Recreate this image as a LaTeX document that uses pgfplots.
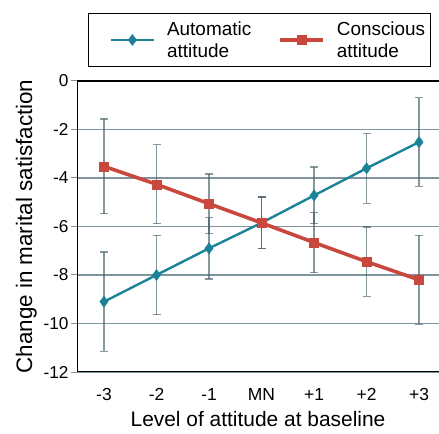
\documentclass[border=0pt]{standalone}
\usepackage{pgfplots}
\pgfplotsset{compat=1.18}
\usepackage{fontspec}
\setmainfont{Liberation Sans}
\definecolor{teal1}{RGB}{27,130,152}
\definecolor{red1}{RGB}{200,72,62}
\definecolor{grid1}{RGB}{128,148,158}
\definecolor{err1}{RGB}{70,95,105}
\begin{document}
\begin{tikzpicture}
\useasboundingbox (0,0) rectangle (439bp,434bp);
\begin{axis}[
  at={(77bp,62bp)}, anchor=south west,
  scale only axis, width=362bp, height=291bp,
  xmin=-0.514, xmax=6.38, ymin=-12, ymax=0,
  axis line style={draw=none},
  xtick={0,...,6}, xticklabels={-3,-2,-1,MN,+1,+2,+3},
  ytick={-12,-10,...,0}, yticklabels={-12,-10,-8,-6,-4,-2,0},
  xtick style={draw=none},
  ytick style={draw=grid1, line width=1bp},
  major tick length=6bp, tick align=outside,
  ymajorgrids, grid style={draw=grid1, line width=1.3bp},
  xticklabel style={font=\fontsize{17.5}{20}\selectfont, yshift=-7bp},
  yticklabel style={font=\fontsize{17.3}{20}\selectfont, xshift=1bp},
  xlabel={Level of attitude at baseline},
  ylabel={Change in marital satisfaction},
  xlabel style={font=\fontsize{21}{24}\selectfont, yshift=-4bp},
  ylabel style={font=\fontsize{22.5}{25}\selectfont, yshift=0bp},
  legend columns=2,
  legend cell align=left,
  legend style={at={(0.504,1.141)}, anchor=center, draw=black, line width=0.8bp,
    font=\fontsize{19}{22}\selectfont, cells={align=left},
    inner xsep=3bp, inner ysep=6bp,
    /tikz/every odd column/.append style={column sep=10bp},
    /tikz/every even column/.append style={column sep=7bp}},
  legend image code/.code={
    \path (0bp,0bp);
    \draw[mark repeat=2, mark phase=2, #1] plot coordinates {(18bp,0bp) (39.5bp,0bp) (61bp,0bp)};
  },
]
\addplot[teal1, line width=2.4bp, mark=diamond*, mark size=5.5bp, mark options={solid, fill=teal1, line width=0.5bp},
  error bars/.cd, y dir=both, y explicit,
  error bar style={draw=err1, opacity=0.65, line width=1.3bp},
  error mark options={rotate=90, mark size=4bp, draw=err1, line width=1.3bp}]
coordinates {
(0,-9.1) +- (0,2.05)
(1,-8.0) +- (0,1.63)
(2,-6.9) +- (0,1.27)
(3,-5.85) +- (0,1.07)
(4,-4.72) +- (0,1.17)
(5,-3.6) +- (0,1.44)
(6,-2.52) +- (0,1.83)
};
\addlegendentry{Automatic\\attitude}
\addplot[red1, line width=3.6bp, mark=square*, mark size=4.5bp, mark options={solid, fill=red1, line width=0.5bp},
  error bars/.cd, y dir=both, y explicit,
  error bar style={draw=err1, opacity=0.65, line width=1.3bp},
  error mark options={rotate=90, mark size=4bp, draw=err1, line width=1.3bp}]
coordinates {
(0,-3.52) +- (0,1.95)
(1,-4.26) +- (0,1.63)
(2,-5.06) +- (0,1.23)
(3,-5.85) +- (0,1.07)
(4,-6.66) +- (0,1.24)
(5,-7.45) +- (0,1.43)
(6,-8.2) +- (0,1.83)
};
\addlegendentry{Conscious\\attitude}
\draw[line width=2.6bp, line cap=rect] (rel axis cs:1,1) -- (rel axis cs:0,1) -- (rel axis cs:0,0) -- (rel axis cs:1,0);
\end{axis}
\end{tikzpicture}
\end{document}
